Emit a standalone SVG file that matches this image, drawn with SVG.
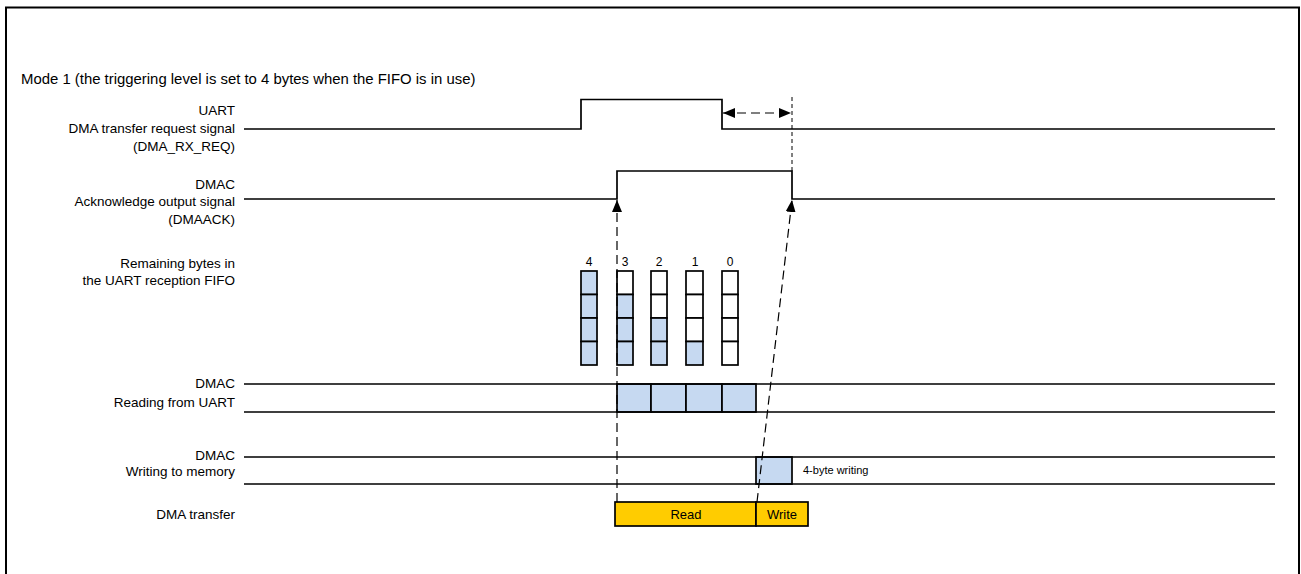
<svg xmlns="http://www.w3.org/2000/svg" width="1301" height="574" viewBox="0 0 1301 574">
<style>
text{font-family:"Liberation Sans",Arial,sans-serif;fill:#000}
.lbl{font-size:13.5px;text-anchor:end}
.sig{fill:none;stroke:#000;stroke-width:1.7}
.cell{stroke:#000;stroke-width:1.7}
.blue{fill:#C6D9F1}
.white{fill:#fff}
.dash{fill:none;stroke:#000;stroke-width:1.2;stroke-dasharray:9 5}
.fine{fill:none;stroke:#000;stroke-width:1;stroke-dasharray:4 3}
.num{font-size:12px;text-anchor:middle}
</style>
<defs>
<marker id="ah" viewBox="0 0 12 10" refX="12" refY="5" markerWidth="12" markerHeight="10" markerUnits="userSpaceOnUse" orient="auto">
<path d="M0,0 L12,5 L0,10 Z" fill="#000"/>
</marker>
<marker id="ahs" viewBox="0 0 12 10" refX="12" refY="5" markerWidth="12" markerHeight="10" markerUnits="userSpaceOnUse" orient="auto-start-reverse">
<path d="M0,0 L12,5 L0,10 Z" fill="#000"/>
</marker>
</defs>
<rect x="0" y="0" width="1301" height="574" fill="#fff"/>
<rect x="6" y="7.5" width="1293" height="590" fill="none" stroke="#000" stroke-width="2"/>
<text x="21" y="84" style="font-size:14.9px">Mode 1 (the triggering level is set to 4 bytes when the FIFO is in use)</text>

<g id="sig-req">
<text class="lbl" x="235" y="115">UART</text>
<text class="lbl" x="235" y="133">DMA transfer request signal</text>
<text class="lbl" x="235" y="151">(DMA_RX_REQ)</text>
<path class="sig" d="M244,129 H581 V99.5 H722 V129 H1275"/>
</g>

<g id="sig-ack">
<text class="lbl" x="235" y="189">DMAC</text>
<text class="lbl" x="235" y="206">Acknowledge output signal</text>
<text class="lbl" x="235" y="224">(DMAACK)</text>
<path class="sig" d="M244,199 H617 V171 H792 V199 H1275"/>
</g>

<g id="fifo">
<text class="lbl" x="235" y="268">Remaining bytes in</text>
<text class="lbl" x="235" y="285">the UART reception FIFO</text>
<text class="num" x="589" y="266">4</text>
<text class="num" x="625" y="266">3</text>
<text class="num" x="659" y="266">2</text>
<text class="num" x="695" y="266">1</text>
<text class="num" x="730" y="266">0</text>
<g id="col4">
<rect class="cell blue" x="581" y="271" width="16" height="23.5"/>
<rect class="cell blue" x="581" y="294.5" width="16" height="23.5"/>
<rect class="cell blue" x="581" y="318" width="16" height="23.5"/>
<rect class="cell blue" x="581" y="341.5" width="16" height="23.5"/>
</g>
<g id="col3">
<rect class="cell white" x="617" y="271" width="16" height="23.5"/>
<rect class="cell blue" x="617" y="294.5" width="16" height="23.5"/>
<rect class="cell blue" x="617" y="318" width="16" height="23.5"/>
<rect class="cell blue" x="617" y="341.5" width="16" height="23.5"/>
</g>
<g id="col2">
<rect class="cell white" x="651" y="271" width="16" height="23.5"/>
<rect class="cell white" x="651" y="294.5" width="16" height="23.5"/>
<rect class="cell blue" x="651" y="318" width="16" height="23.5"/>
<rect class="cell blue" x="651" y="341.5" width="16" height="23.5"/>
</g>
<g id="col1">
<rect class="cell white" x="686" y="271" width="17" height="23.5"/>
<rect class="cell white" x="686" y="294.5" width="17" height="23.5"/>
<rect class="cell white" x="686" y="318" width="17" height="23.5"/>
<rect class="cell blue" x="686" y="341.5" width="17" height="23.5"/>
</g>
<g id="col0">
<rect class="cell white" x="722" y="271" width="16" height="23.5"/>
<rect class="cell white" x="722" y="294.5" width="16" height="23.5"/>
<rect class="cell white" x="722" y="318" width="16" height="23.5"/>
<rect class="cell white" x="722" y="341.5" width="16" height="23.5"/>
</g>
</g>

<g id="reading">
<text class="lbl" x="235" y="388">DMAC</text>
<text class="lbl" x="235" y="407">Reading from UART</text>
<rect class="cell blue" x="617" y="384" width="34" height="28"/>
<rect class="cell blue" x="651" y="384" width="35" height="28"/>
<rect class="cell blue" x="686" y="384" width="36" height="28"/>
<rect class="cell blue" x="722" y="384" width="34" height="28"/>
<path class="sig" d="M244,384 H1275 M244,412 H1275"/>
</g>

<g id="writing">
<text class="lbl" x="235" y="460">DMAC</text>
<text class="lbl" x="235" y="476">Writing to memory</text>
<rect class="cell blue" x="756" y="457" width="36" height="27"/>
<path class="sig" d="M244,457 H1275 M244,484 H1275"/>
<text x="803" y="474" style="font-size:11px">4-byte writing</text>
</g>

<g id="dma-transfer">
<text class="lbl" x="235" y="519">DMA transfer</text>
<rect x="615" y="502" width="141" height="24" fill="#FFCC00" stroke="#000" stroke-width="1.7"/>
<rect x="756" y="502" width="52" height="24" fill="#FFCC00" stroke="#000" stroke-width="1.7"/>
<text x="686" y="519" style="font-size:13px;text-anchor:middle">Read</text>
<text x="782" y="519" style="font-size:13px;text-anchor:middle">Write</text>
</g>

<g id="connectors">
<line class="fine" x1="792" y1="97" x2="792" y2="171"/>
<line class="dash" x1="723" y1="113" x2="791" y2="113" marker-start="url(#ahs)" marker-end="url(#ah)"/>
<line class="dash" x1="617" y1="502" x2="617" y2="200" marker-end="url(#ah)"/>
<line class="dash" x1="757" y1="502" x2="792" y2="200" marker-end="url(#ah)"/>
</g>
</svg>
